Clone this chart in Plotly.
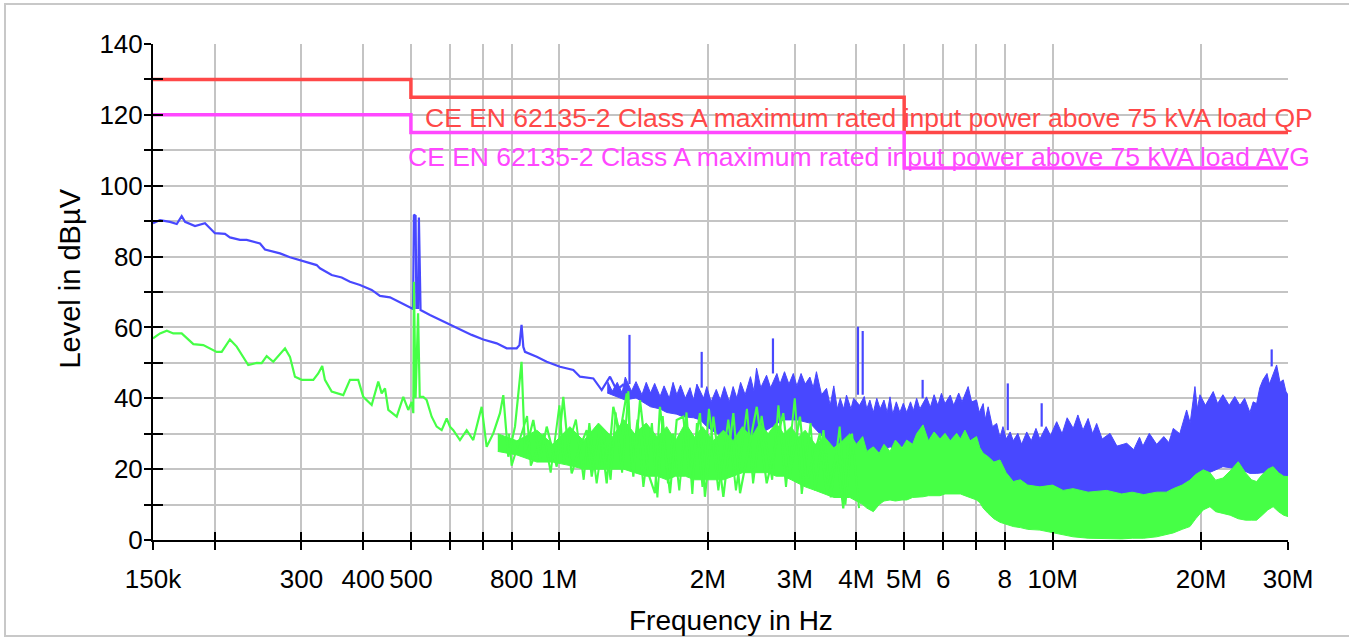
import math
import plotly.graph_objects as go

# ---------------- data (frequency in MHz, level in dBuV) ----------------
# Limit lines (step functions)
limit_freq = [0.15, 0.5, 5.0, 30.0]
limit_qp = [130, 125, 115, 115]
limit_avg = [120, 115, 105, 105]

# Blue (peak) trace, smooth low-frequency part
blue_f = [0.150, 0.155, 0.1624, 0.1676, 0.1715, 0.1742, 0.1825, 0.1912, 0.2003, 0.2099,
          0.2148, 0.2251, 0.2323, 0.2472, 0.2530, 0.2714, 0.2843, 0.3025, 0.3220, 0.3270,
          0.3454, 0.3619, 0.3762, 0.3942, 0.4163, 0.4328, 0.4535, 0.4825, 0.5018, 0.505,
          0.507, 0.511, 0.513, 0.517, 0.519, 0.523, 0.5465, 0.5727, 0.6000, 0.6287,
          0.6640, 0.7009, 0.7462, 0.7819, 0.8192, 0.830, 0.838, 0.845, 0.8516, 0.8995,
          0.9425, 1.0028, 1.0671, 1.1010, 1.1715, 1.2183, 1.2665, 1.3067, 1.35]
blue_v = [89.4, 90.3, 89.8, 89.2, 91.4, 89.8, 88.6, 89.4, 86.6, 86.4,
          85.4, 84.7, 84.7, 83.7, 82.0, 80.9, 79.8, 78.6, 77.6, 76.7,
          74.8, 74.1, 72.9, 72.0, 70.6, 68.9, 68.5, 66.6, 65.4, 65.2,
          91.8, 91.5, 65.5, 65.5, 91.0, 64.9, 63.5, 62.1, 60.7, 59.3,
          57.9, 56.6, 55.5, 54.1, 54.1, 55.0, 60.7, 54.5, 53.1, 51.7,
          50.3, 48.9, 48.0, 46.1, 45.6, 42.3, 46.1, 42.3, 44.0]

# Blue dense region: upper envelope
blue_hi_f = [1.25, 1.28, 1.31, 1.34, 1.36, 1.40, 1.43, 1.47, 1.50, 1.53,
             1.56, 1.60, 1.63, 1.67, 1.70, 1.73, 1.76, 1.80, 1.84, 1.87,
             1.90, 1.96, 1.99, 2.03, 2.08, 2.12, 2.16, 2.21, 2.25, 2.29,
             2.33, 2.38, 2.44, 2.48, 2.51, 2.56, 2.63, 2.68, 2.76, 2.80,
             2.86, 2.92, 2.98, 3.03, 3.09, 3.15, 3.22, 3.27, 3.32, 3.40,
             3.48, 3.54, 3.60, 3.66, 3.71, 3.77, 3.82, 3.90, 3.95, 4.06,
             4.15, 4.20, 4.26, 4.33, 4.40, 4.47, 4.55, 4.62, 4.68, 4.74,
             4.82, 4.90, 4.98, 5.06, 5.15, 5.22, 5.30, 5.38, 5.55, 5.65,
             5.75, 5.85, 5.95, 6.05, 6.20, 6.30, 6.45, 6.55, 6.74, 6.85,
             7.01, 7.10, 7.23, 7.30, 7.40, 7.55, 7.70, 7.82, 7.93, 8.05,
             8.20, 8.32, 8.50, 8.65, 8.86, 9.05, 9.25, 9.42, 9.70, 9.90,
             10.19, 10.45, 10.7, 11.01, 11.25, 11.52, 11.8, 12.05, 12.28, 12.6,
             13.07, 13.5, 14.13, 14.6, 15.0, 15.24, 15.7, 16.25, 16.8, 17.2,
             17.56, 18.1, 18.69, 19.0, 19.43, 19.65, 19.89, 20.4, 21.16, 21.6,
             22.14, 22.8, 23.4, 23.97, 24.5, 25.11, 25.5, 25.91, 26.3, 26.69,
             27.2, 27.5, 28.45, 28.9, 29.34, 29.7, 30.0]
blue_hi_v = [45.0, 42.0, 44.5, 41.5, 46.0, 42.0, 44.7, 41.0, 44.5, 41.5,
             44.2, 40.5, 43.5, 40.0, 44.5, 41.0, 43.7, 40.0, 43.0, 39.5,
             44.0, 40.0, 43.3, 39.0, 42.5, 39.5, 43.3, 39.0, 43.3, 40.0,
             44.5, 41.0, 46.1, 42.0, 48.5, 43.0, 46.5, 43.0, 47.0, 44.0,
             47.5, 44.0, 47.0, 43.5, 47.0, 44.0, 46.0, 43.0, 47.5, 41.0,
             42.8, 38.0, 43.5, 37.0, 40.0, 37.0, 40.9, 37.0, 40.0, 38.0,
             40.5, 37.0, 39.5, 36.0, 40.0, 37.0, 39.5, 36.0, 40.4, 35.5,
             39.0, 36.0, 38.6, 36.0, 39.0, 36.5, 40.0, 37.0, 40.4, 37.5,
             41.0, 38.0, 41.4, 38.5, 40.9, 38.0, 41.5, 39.0, 43.3, 39.0,
             39.5, 36.0, 38.5, 34.0, 37.6, 32.0, 32.9, 29.0, 32.0, 28.5,
             30.5, 28.0, 30.1, 27.0, 30.5, 28.0, 31.5, 28.5, 32.0, 29.5,
             33.4, 30.0, 34.5, 31.5, 35.3, 31.0, 34.3, 30.0, 32.9, 28.5,
             30.1, 26.5, 27.3, 25.5, 29.0, 26.5, 30.1, 27.0, 29.2, 27.5,
             31.5, 30.0, 36.7, 33.0, 43.3, 37.0, 41.0, 38.0, 41.9, 38.5,
             41.0, 38.0, 40.5, 38.0, 40.0, 36.0, 39.0, 38.5, 43.0, 45.2,
             47.0, 44.0, 49.4, 44.5, 45.2, 42.0, 40.9]

# Blue dense region: lower envelope
blue_lo_f = [1.25, 1.31, 1.36, 1.43, 1.53, 1.60, 1.65, 1.73, 1.78, 1.87,
             1.93, 1.99, 2.08, 2.18, 2.29, 2.34, 2.44, 2.51, 2.63, 2.84,
             3.03, 3.22, 3.32, 3.48, 3.54, 3.71, 3.82, 4.00, 4.20, 4.33,
             4.47, 4.68, 4.74, 5.06, 5.30, 5.55, 5.91, 6.39, 6.74, 7.01,
             7.23, 7.35, 7.70, 7.93, 8.32, 8.86, 9.42, 10.19, 11.01, 11.52,
             12.28, 13.07, 14.13, 15.24, 16.25, 17.56, 18.69, 19.43, 19.89, 21.16,
             22.14, 23.97, 25.11, 25.91, 26.69, 28.45, 29.34, 30.0]
blue_lo_v = [41.5, 40.5, 39.5, 40.1, 37.6, 37.0, 36.0, 35.5, 34.8, 34.5,
             33.9, 32.0, 30.1, 29.0, 27.3, 27.5, 29.0, 30.0, 31.0, 33.9,
             33.9, 33.0, 31.0, 28.0, 25.0, 23.5, 23.0, 23.5, 23.5, 23.5,
             24.5, 26.3, 26.0, 26.5, 27.0, 27.3, 27.3, 27.5, 28.2, 28.0,
             23.5, 22.0, 19.5, 18.0, 16.0, 15.0, 14.5, 14.1, 13.5, 13.2,
             13.2, 13.0, 12.8, 12.7, 12.7, 13.6, 15.5, 17.0, 17.9, 19.5,
             20.7, 20.0, 18.8, 18.8, 19.0, 18.5, 18.0, 17.9]

# Blue narrow-band spikes (frequency, base level, peak level)
blue_spike_f = [1.387, 1.943, 2.71, 4.03, 4.12, 5.45, 8.11, 9.50, 27.8]
blue_spike_base = [44.0, 43.0, 47.0, 41.0, 41.0, 40.0, 31.0, 32.0, 49.0]
blue_spike_top = [57.9, 53.1, 56.9, 60.2, 59.0, 45.2, 44.2, 38.6, 53.8]

# Green (average) trace
green_f = [0.150, 0.155, 0.160, 0.1649, 0.1715, 0.1811, 0.1897, 0.2019, 0.2067, 0.2148,
           0.2217, 0.2340, 0.2434, 0.2491, 0.2550, 0.2630, 0.2778, 0.2843, 0.2910, 0.3003,
           0.3170, 0.3244, 0.3305, 0.3347, 0.3454, 0.3646, 0.3762, 0.3910, 0.4003, 0.4163,
           0.4293, 0.4362, 0.4430, 0.4499, 0.4679, 0.4825, 0.4939, 0.5018, 0.5056, 0.507,
           0.511, 0.517, 0.521, 0.5297, 0.5382, 0.5509, 0.5639, 0.5772, 0.5909, 0.6000,
           0.6093, 0.6287, 0.6487, 0.6689, 0.6957, 0.7121, 0.7344, 0.7578, 0.7696, 0.7877,
           0.8128, 0.838, 0.8516, 0.8853, 0.9135, 0.9425, 0.9875, 1.0184, 1.0347, 1.0591,
           1.1010, 1.1360, 1.1628, 1.2087, 1.2471, 1.2861, 1.3270, 1.3692, 1.4121, 1.4570,
           1.5141, 1.5621, 1.5990, 1.6757, 1.7290, 1.7828, 1.8394, 1.9275, 1.9725, 2.0516,
           2.1497, 2.2524, 2.3240, 2.5125, 2.6318, 2.8433, 2.9336, 3.0738, 3.1715, 3.3747,
           3.4820, 3.6485, 3.7628, 3.8516]
green_v = [56.9, 58.3, 59.1, 58.3, 58.3, 55.3, 55.0, 53.1, 53.1, 56.6,
           54.6, 49.4, 50.0, 49.9, 51.9, 50.3, 54.1, 51.7, 46.1, 45.2,
           45.2, 47.0, 49.1, 45.2, 41.9, 40.9, 45.2, 45.2, 40.4, 38.1,
           44.7, 41.4, 42.8, 36.7, 34.8, 40.4, 36.7, 39.0, 35.8, 72.9,
           40.0, 64.0, 40.4, 40.4, 39.5, 34.8, 32.0, 31.0, 34.3, 32.0,
           31.0, 28.2, 31.0, 28.2, 37.6, 26.3, 30.1, 35.8, 40.9, 23.5,
           32.0, 50.3, 24.5, 33.9, 22.6, 32.0, 20.7, 40.4, 30.1, 18.8,
           26.3, 31.0, 17.9, 32.0, 16.0, 37.6, 30.1, 41.4, 17.9, 39.5,
           18.8, 13.2, 37.6, 13.2, 33.9, 34.8, 17.9, 35.8, 12.2, 34.8,
           12.2, 35.8, 13.2, 37.6, 16.0, 35.8, 18.8, 34.8, 16.0, 30.1,
           13.2, 24.5, 8.9, 27.3]

# Green: second set of readings in the hatched 0.8-4 MHz region
green2_f = [0.79, 0.80, 0.86, 0.875, 0.93, 0.96, 1.00, 1.02, 1.08, 1.12,
            1.15, 1.19, 1.23, 1.27, 1.30, 1.34, 1.38, 1.40, 1.44, 1.48,
            1.54, 1.58, 1.62, 1.66, 1.70, 1.75, 1.81, 1.86, 1.90, 1.95,
            2.01, 2.10, 2.20, 2.28, 2.40, 2.47, 2.57, 2.70, 2.78, 2.88,
            3.00, 3.10, 3.23, 3.30, 3.43, 3.55, 3.70, 3.80, 3.92, 4.05]
green2_v = [30.0, 21.0, 35.0, 21.0, 30.0, 19.0, 38.0, 22.0, 34.0, 17.0,
            33.0, 16.0, 30.0, 17.0, 36.0, 19.0, 42.0, 20.0, 34.0, 15.0,
            33.0, 12.0, 35.0, 16.0, 30.0, 14.0, 36.0, 13.0, 33.0, 15.0,
            37.0, 14.0, 34.0, 14.0, 37.0, 16.0, 35.0, 17.0, 38.0, 15.0,
            40.0, 13.0, 33.0, 14.0, 31.0, 12.0, 32.0, 10.0, 30.0, 9.0]

# Green dense region: upper / lower envelope
green_band_f = [0.75, 0.82, 0.90, 0.97, 1.05, 1.12, 1.20, 1.28, 1.35, 1.42,
                1.50, 1.58, 1.65, 1.72, 1.80, 1.88, 1.95, 2.05, 2.15, 2.25,
                2.35, 2.45, 2.55, 2.65, 2.75, 2.85, 2.95, 3.05, 3.15, 3.30,
                3.45, 3.60, 3.75, 3.88, 4.00, 4.12, 4.20, 4.33, 4.45, 4.55,
                4.68, 4.80, 4.95, 5.06, 5.20, 5.30, 5.46, 5.60, 5.75, 5.91,
                6.05, 6.20, 6.39, 6.50, 6.64, 6.80, 7.01, 7.12, 7.23, 7.40,
                7.60, 7.82, 8.05, 8.32, 8.60, 8.90, 9.42, 10.0, 10.5, 11.0,
                11.8, 12.87, 13.8, 14.5, 15.3, 16.25, 17.0, 17.56, 18.3, 18.98,
                19.5, 20.2, 20.84, 21.4, 22.14, 22.9, 23.78, 24.6, 25.3, 25.91,
                26.6, 27.3, 27.99, 28.7, 29.4, 30.0]
green_band_hi = [30.0, 28.0, 31.0, 27.0, 32.0, 28.0, 33.0, 29.0, 34.0, 30.0,
                 33.0, 29.0, 32.0, 28.0, 33.0, 29.0, 32.0, 28.0, 31.0, 28.0,
                 32.0, 29.0, 33.0, 30.0, 33.0, 30.0, 32.0, 29.0, 31.0, 27.0,
                 29.0, 26.0, 28.0, 30.0, 27.0, 29.2, 25.0, 26.3, 24.5, 27.0,
                 25.0, 28.2, 26.0, 28.2, 27.0, 30.0, 32.5, 28.0, 30.5, 28.5,
                 30.1, 28.0, 30.1, 28.5, 31.0, 28.0, 29.2, 26.0, 24.5, 23.5,
                 22.0, 22.6, 19.0, 16.5, 17.0, 15.5, 15.0, 15.5, 14.0, 14.5,
                 13.5, 14.0, 13.0, 13.5, 12.8, 13.5, 13.5, 14.5, 15.5, 16.9,
                 18.5, 19.8, 19.0, 16.9, 17.5, 19.5, 22.1, 19.0, 17.0, 16.5,
                 18.5, 20.0, 20.7, 19.0, 18.0, 17.9]
green_band_lo = [25.0, 24.0, 22.0, 22.0, 21.0, 20.0, 20.0, 20.0, 20.0, 19.0,
                 18.0, 18.0, 17.0, 18.0, 18.0, 17.0, 17.0, 17.0, 17.0, 18.0,
                 19.0, 19.0, 19.0, 19.0, 18.0, 18.0, 17.0, 16.0, 15.0, 14.0,
                 13.0, 12.0, 12.0, 12.0, 11.0, 10.0, 9.0, 8.0, 10.0, 11.0,
                 11.3, 11.0, 11.3, 11.3, 12.0, 12.0, 12.2, 12.5, 12.5, 12.5,
                 13.0, 13.0, 13.2, 13.0, 12.5, 12.0, 11.3, 10.5, 9.0, 7.5,
                 6.0, 5.0, 4.5, 3.8, 3.5, 3.0, 2.8, 2.0, 1.5, 0.9,
                 0.5, 0.3, 0.3, 0.5, 0.5, 0.9, 1.5, 2.0, 3.0, 3.8,
                 6.0, 8.5, 9.4, 8.0, 7.5, 7.0, 6.0, 5.6, 5.6, 5.6,
                 7.0, 8.5, 9.4, 8.0, 7.0, 6.6]

# Axis ticks
x_tick_vals = [0.15, 0.2, 0.3, 0.4, 0.5, 0.6, 0.7, 0.8, 1, 2, 3, 4, 5, 6, 7, 8, 10, 20, 30]
x_tick_text = ["150k", "", "300", "400", "500", "", "", "800", "1M", "2M", "3M", "4M", "5M",
               "6", "", "8", "10M", "20M", "30M"]
y_tick_vals = list(range(0, 141, 10))
y_tick_text = [str(v) if v % 20 == 0 else "" for v in y_tick_vals]

label_qp = "CE EN 62135-2 Class A maximum rated input power above 75 kVA load QP"
label_avg = "CE EN 62135-2 Class A maximum rated input power above 75 kVA load AVG"

BLUE = "#4848ff"
GREEN = "#46ff46"
RED = "#ff4848"
MAGENTA = "#ff48ff"
FONT = "Liberation Sans, Arial, sans-serif"


def spikes(freqs, bases, tops):
    xs, ys = [], []
    for f, b, t in zip(freqs, bases, tops):
        xs += [f, f, None]
        ys += [b, t, None]
    return xs, ys


fig = go.Figure()

# blue dense band
fig.add_trace(go.Scatter(x=blue_lo_f, y=blue_lo_v, mode="lines",
                         line=dict(color=BLUE, width=1), hoverinfo="skip"))
fig.add_trace(go.Scatter(x=blue_hi_f, y=blue_hi_v, mode="lines", fill="tonexty",
                         fillcolor=BLUE, line=dict(color=BLUE, width=1), hoverinfo="skip"))
# blue line
fig.add_trace(go.Scatter(x=blue_f, y=blue_v, mode="lines",
                         line=dict(color=BLUE, width=2.2), hoverinfo="skip"))
sx, sy = spikes(blue_spike_f, blue_spike_base, blue_spike_top)
fig.add_trace(go.Scatter(x=sx, y=sy, mode="lines",
                         line=dict(color=BLUE, width=2.2), hoverinfo="skip"))

# green dense band
fig.add_trace(go.Scatter(x=green_band_f, y=green_band_lo, mode="lines",
                         line=dict(color=GREEN, width=1), hoverinfo="skip"))
fig.add_trace(go.Scatter(x=green_band_f, y=green_band_hi, mode="lines", fill="tonexty",
                         fillcolor=GREEN, line=dict(color=GREEN, width=1), hoverinfo="skip"))
# green lines
fig.add_trace(go.Scatter(x=green2_f, y=green2_v, mode="lines",
                         line=dict(color=GREEN, width=2), hoverinfo="skip"))
fig.add_trace(go.Scatter(x=green_f, y=green_v, mode="lines",
                         line=dict(color=GREEN, width=2.2), hoverinfo="skip"))

# limit lines
fig.add_trace(go.Scatter(x=limit_freq, y=limit_qp, mode="lines", line_shape="hv",
                         line=dict(color=RED, width=3.5), hoverinfo="skip"))
fig.add_trace(go.Scatter(x=limit_freq, y=limit_avg, mode="lines", line_shape="hv",
                         line=dict(color=MAGENTA, width=3.5), hoverinfo="skip"))

# invisible trace for the overlay axes (inner halves of the tick marks)
fig.add_trace(go.Scatter(x=[0.15], y=[0], xaxis="x2", yaxis="y2", mode="markers",
                         marker=dict(opacity=0), hoverinfo="skip"))

xr = [math.log10(0.15), math.log10(30)]

fig.update_layout(
    width=1349, height=638,
    margin=dict(l=153, r=61, t=44, b=98),
    paper_bgcolor="white", plot_bgcolor="white",
    showlegend=False,
    font=dict(family=FONT, color="black"),
    xaxis=dict(type="log", range=xr, tickmode="array", tickvals=x_tick_vals,
               ticktext=x_tick_text, showgrid=True, gridcolor="#c4c4c4", gridwidth=2,
               showline=True, linecolor="black", linewidth=2,
               ticks="outside", ticklen=8, tickwidth=2, tickcolor="black",
               tickfont=dict(size=26, family=FONT, color="black"),
               ticklabelstandoff=7, zeroline=False),
    yaxis=dict(range=[0, 140], tickmode="array", tickvals=y_tick_vals, ticktext=y_tick_text,
               showgrid=True, gridcolor="#c4c4c4", gridwidth=2,
               showline=True, linecolor="black", linewidth=2,
               ticks="outside", ticklen=7, tickwidth=2, tickcolor="black",
               tickfont=dict(size=26, family=FONT, color="black"),
               ticklabelstandoff=-4, zeroline=False),
    xaxis2=dict(type="log", range=xr, overlaying="x", anchor="y", side="bottom",
                tickmode="array", tickvals=x_tick_vals, showticklabels=False,
                showgrid=False, zeroline=False, showline=False,
                ticks="inside", ticklen=8, tickwidth=2, tickcolor="black"),
    yaxis2=dict(range=[0, 140], overlaying="y", anchor="x", side="left",
                tickmode="array", tickvals=y_tick_vals, showticklabels=False,
                showgrid=False, zeroline=False, showline=False,
                ticks="inside", ticklen=10, tickwidth=2, tickcolor="black"),
    annotations=[
        dict(text="Frequency in Hz", xref="paper", yref="paper", x=0.5093, y=-0.1633,
             xanchor="center", yanchor="middle", showarrow=False,
             font=dict(size=28, family=FONT, color="black")),
        dict(text="Level in dBµV", xref="paper", yref="paper", x=-0.0740, y=0.5272,
             xanchor="center", yanchor="middle", showarrow=False, textangle=-90,
             font=dict(size=29, family=FONT, color="black")),
        dict(text=label_qp, xref="paper", yref="paper", x=1.0238, y=0.8508,
             xanchor="right", yanchor="middle", showarrow=False,
             font=dict(size=26.5, family=FONT, color=RED)),
        dict(text=label_avg, xref="paper", yref="paper", x=1.0211, y=0.7722,
             xanchor="right", yanchor="middle", showarrow=False,
             font=dict(size=26.5, family=FONT, color=MAGENTA)),
    ],
    shapes=[
        dict(type="rect", xref="paper", yref="paper", x0=-0.1304, x1=1.1850,
             y0=-0.1935, y1=1.0806, line=dict(color="#c8c8c8", width=2), layer="below"),
    ],
)

fig.write_html("out.html")
